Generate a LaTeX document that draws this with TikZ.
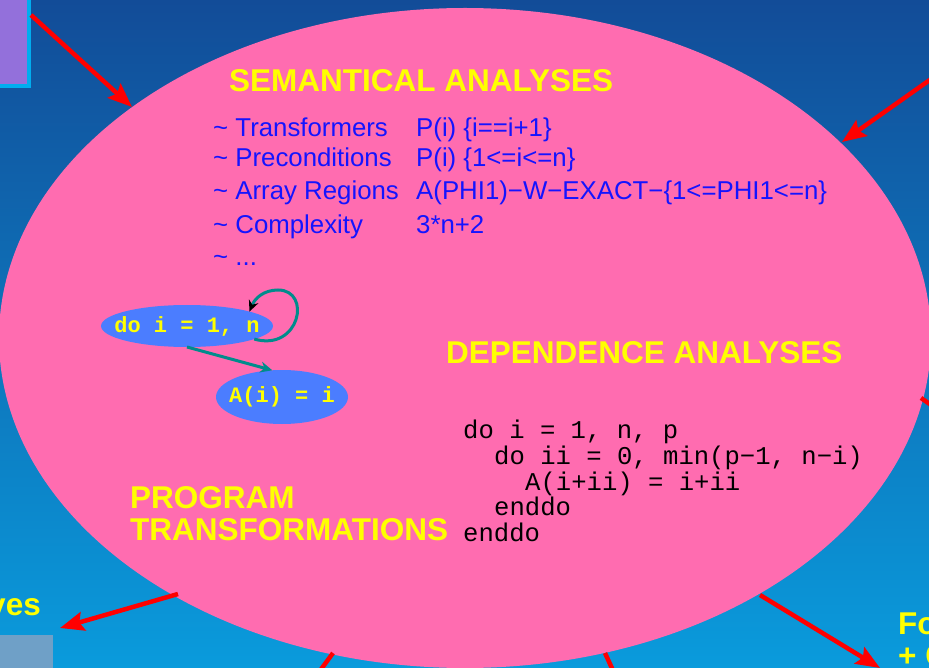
\documentclass[tikz,border=0pt]{standalone}
\usepackage{fontspec}
\setmainfont{Liberation Sans}
\setmonofont{Liberation Mono}
\usetikzlibrary{arrows.meta,shapes.geometric}
\definecolor{bgtop}{RGB}{18,76,152}
\definecolor{bgbot}{RGB}{10,155,220}
\definecolor{pinkE}{RGB}{255,108,176}
\definecolor{nodeB}{RGB}{75,125,255}
\definecolor{tealA}{RGB}{0,140,140}
\definecolor{yel}{RGB}{255,255,0}
\definecolor{txtB}{RGB}{20,20,255}
\definecolor{purp}{RGB}{147,112,219}
\definecolor{greyB}{RGB}{111,160,199}
\begin{document}
\begin{tikzpicture}[x=1pt,y=-1pt,
 title/.style={text=yel, font=\bfseries\fontsize{31.5}{33}\selectfont, anchor=base west, inner sep=0},
 sem/.style={text=txtB, font=\fontsize{25.8}{30}\selectfont, anchor=base west, inner sep=0},
 code/.style={font=\ttfamily\fontsize{25.6}{26}\selectfont, anchor=base west, inner sep=0},
 loopnode/.style={ellipse, fill=nodeB, inner sep=0, outer sep=0, text=yel, font=\ttfamily\bfseries\fontsize{22}{22}\selectfont},
 redarrow/.style={draw=red, line width=4.5pt, -{Stealth[length=24pt,width=19pt,inset=4pt]}},
 redline/.style={draw=red, line width=4.5pt},
 tealline/.style={draw=tealA, line width=3pt},
]
\useasboundingbox (0,0) rectangle (929,668);
\clip (0,0) rectangle (929,668);
\shade[top color=bgtop, bottom color=bgbot] (0,0) rectangle (929,668);

% side boxes
\node[fill=purp, draw=cyan, line width=4pt, inner sep=0, outer sep=0,
      minimum width=40pt, minimum height=96pt, anchor=south east] (box) at (29,86) {};
\node[fill=greyB, inner sep=0, outer sep=0, minimum width=60pt, minimum height=40pt,
      anchor=north east] (gbox) at (53,635) {};

% big ellipse
\node[ellipse, fill=pinkE, inner sep=0, outer sep=0, minimum width=932pt, minimum height=660pt] (big) at (465,338) {};

% connector end points
\coordinate (s1) at (31,15);
\coordinate (b1) at (132,107);
\coordinate (b2) at (842,142);
\coordinate (s2) at (975,48);
\coordinate (b3) at (178,594);
\coordinate (e3) at (60,628);
\coordinate (b4) at (760,595);
\coordinate (e4) at (880,668);
\coordinate (b5) at (333,653);
\coordinate (e5) at (300,698);
\coordinate (b6) at (605,653);
\coordinate (e6) at (621,688);
\coordinate (b7) at (921,398);
\coordinate (e7) at (960,425);

\draw[redarrow] (s1) -- (b1);
\draw[redarrow] (s2) -- (b2);
\draw[redarrow] (b3) -- (e3);
\draw[redarrow] (b4) -- (e4);
\draw[redline] (b5) -- (e5);
\draw[redline] (b6) -- (e6);
\draw[redline] (b7) -- (e7);

% titles
\node[title] (semt) at (229,92) {SEMANTICAL ANALYSES};
\node[title] (dept) at (446,363) {DEPENDENCE ANALYSES};
\node[title] (prg1) at (130,508) {PROGRAM};
\node[title] (prg2) at (130,540) {TRANSFORMATIONS};
\node[title, anchor=base east] (ves) at (41,615) {ves};
\node[title] (fo1) at (898,634) {Fo};
\node[title] (fo2) at (898,666) {+ C};

% semantic analyses list
\node[sem] (t1) at (213,137) {\textasciitilde{} Transformers};
\node[sem] (t2) at (213,167) {\textasciitilde{} Preconditions};
\node[sem] (t3) at (213,200) {\textasciitilde{} Array Regions};
\node[sem] (t4) at (213,234) {\textasciitilde{} Complexity};
\node[sem] (t5) at (213,266) {\textasciitilde{} ...};
\node[sem] (v1) at (416,137) {P(i) \{i==i+1\}};
\node[sem] (v2) at (416,167) {P(i) \{1<=i<=n\}};
\node[sem] (v3) at (416,200) {A(PHI1)−W−EXACT−\{1<=PHI1<=n\}};
\node[sem] (v4) at (416,234) {3*n+2};

% dependence code
\node[code] (c1) at (463,438) {do i = 1, n, p};
\node[code] (c2) at (494,464) {do ii = 0, min(p−1, n−i)};
\node[code] (c3) at (525,490) {A(i+ii) = i+ii};
\node[code] (c4) at (494,515) {enddo};
\node[code] (c5) at (463,541) {enddo};

% loop graph
\node[loopnode, minimum width=172pt, minimum height=42pt] (do) at (187,326) {\makebox[0pt]{do i = 1, n}};
\node[loopnode, minimum width=132pt, minimum height=54pt] (asg) at (282,397) {\makebox[0pt]{A(i) = i}};
\draw[tealline, -{Stealth[length=12pt,width=11pt]}] (do.south) -- (asg.110);
\draw[tealline, -{Stealth[length=11pt,width=10pt,color=black]}] (do.-11)
   .. controls (300,352) and (312,290) .. (278,290)
   .. controls (264,290) and (255,298) .. (do.13);
\end{tikzpicture}
\end{document}
